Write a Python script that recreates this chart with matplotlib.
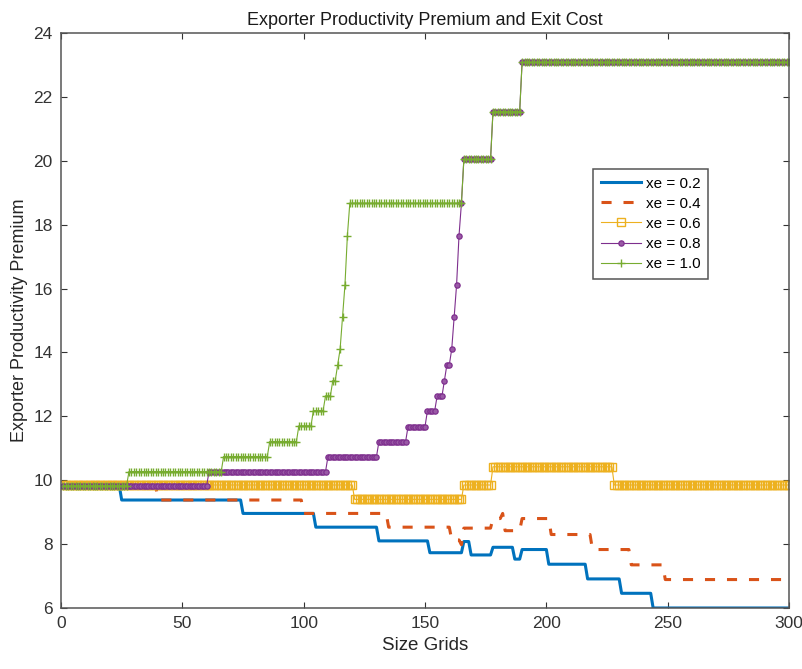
import numpy as np
import matplotlib
matplotlib.use("Agg")
import matplotlib.pyplot as plt

plt.rcParams['font.family'] = ['Liberation Sans', 'DejaVu Sans']

n_grid = 300
grid = np.arange(1, n_grid + 1)

# step functions: first grid point of each step and its level
blue_start = [1, 25, 75, 105, 131, 152, 166, 169, 178, 187, 190, 201, 217, 231, 244]
blue_level = [9.83, 9.38, 8.96, 8.53, 8.10, 7.73, 8.08, 7.66, 7.90, 7.53, 7.83, 7.37, 6.91, 6.46, 6.0]

orange_start = [1, 40, 100, 135, 161, 165, 166, 178, 182, 183, 190, 202, 219, 235, 249]
orange_level = [9.83, 9.38, 8.96, 8.53, 8.13, 7.98, 8.50, 8.80, 8.96, 8.42, 8.80, 8.30, 7.83, 7.35, 6.89]

yellow_start = [1, 121, 166, 178, 228]
yellow_level = [9.85, 9.40, 9.85, 10.42, 9.85]

purple_start = [1, 61, 110, 131, 143, 151, 155, 158, 159, 161, 162, 163, 164, 165, 166, 178, 190]
purple_level = [9.83, 10.27, 10.74, 11.21, 11.68, 12.18, 12.64, 13.12, 13.61, 14.10, 15.10, 16.11,
                17.65, 18.67, 20.04, 21.54, 23.08]

green_start = [1, 28, 67, 86, 98, 104, 109, 112, 114, 115, 116, 117, 118, 119, 166, 178, 190]
green_level = [9.83, 10.27, 10.74, 11.21, 11.70, 12.18, 12.64, 13.12, 13.61, 14.10, 15.10, 16.11,
               17.65, 18.67, 20.04, 21.54, 23.08]

labels = ["xe = 0.2", "xe = 0.4", "xe = 0.6", "xe = 0.8", "xe = 1.0"]


def steps(starts, levels):
    out = np.empty(n_grid)
    ends = starts[1:] + [n_grid + 1]
    for s, e, v in zip(starts, ends, levels):
        out[s - 1:e - 1] = v
    return out


fig = plt.figure(figsize=(8.03, 6.69), dpi=100)
ax = fig.add_axes([0.076, 0.0912, 0.9066, 0.8595])

ax.plot(grid, steps(blue_start, blue_level), color='#0072BD', lw=2.2, label=labels[0])
ax.plot(grid, steps(orange_start, orange_level), color='#D95319', lw=2.2,
        linestyle=(0, (3.3, 3.9)), label=labels[1])
ax.plot(grid, steps(yellow_start, yellow_level), color='#EDB120', lw=0.8, marker='s',
        markersize=5.5, markerfacecolor='none', markeredgewidth=1.0, label=labels[2])
ax.plot(grid, steps(purple_start, purple_level), color='#7E2F8E', lw=0.8, marker='o',
        markersize=3.8, markerfacecolor='#9a5aa6', markeredgewidth=0.9, label=labels[3])
ax.plot(grid, steps(green_start, green_level), color='#77AC30', lw=0.8, marker='+',
        markersize=6, markeredgewidth=1.0, label=labels[4])

ax.set_xlim(0, 300)
ax.set_ylim(6, 24)
ax.set_xticks(np.arange(0, 301, 50))
ax.set_yticks(np.arange(6, 25, 2))
ax.tick_params(direction='in', top=True, right=True, length=4.5, width=0.8,
               labelsize=12.5, colors='#333333', pad=6)
for s in ax.spines.values():
    s.set_color('#555555')
    s.set_linewidth(1.1)

ax.set_xlabel("Size Grids", fontsize=13.5, color='#262626')
ax.set_ylabel("Exporter Productivity Premium", fontsize=13, color='#262626')
ax.set_title("Exporter Productivity Premium and Exit Cost", fontsize=13, color='#1a1a1a')

leg = ax.legend(loc='upper right', bbox_to_anchor=(0.889, 0.7635), borderaxespad=0,
                fontsize=11, fancybox=False, framealpha=1, edgecolor='#555555', numpoints=1,
                handlelength=2.6, borderpad=0.5, labelspacing=0.4, handletextpad=0.35)
leg.get_frame().set_linewidth(1.1)

plt.savefig("out.png", dpi=100)
